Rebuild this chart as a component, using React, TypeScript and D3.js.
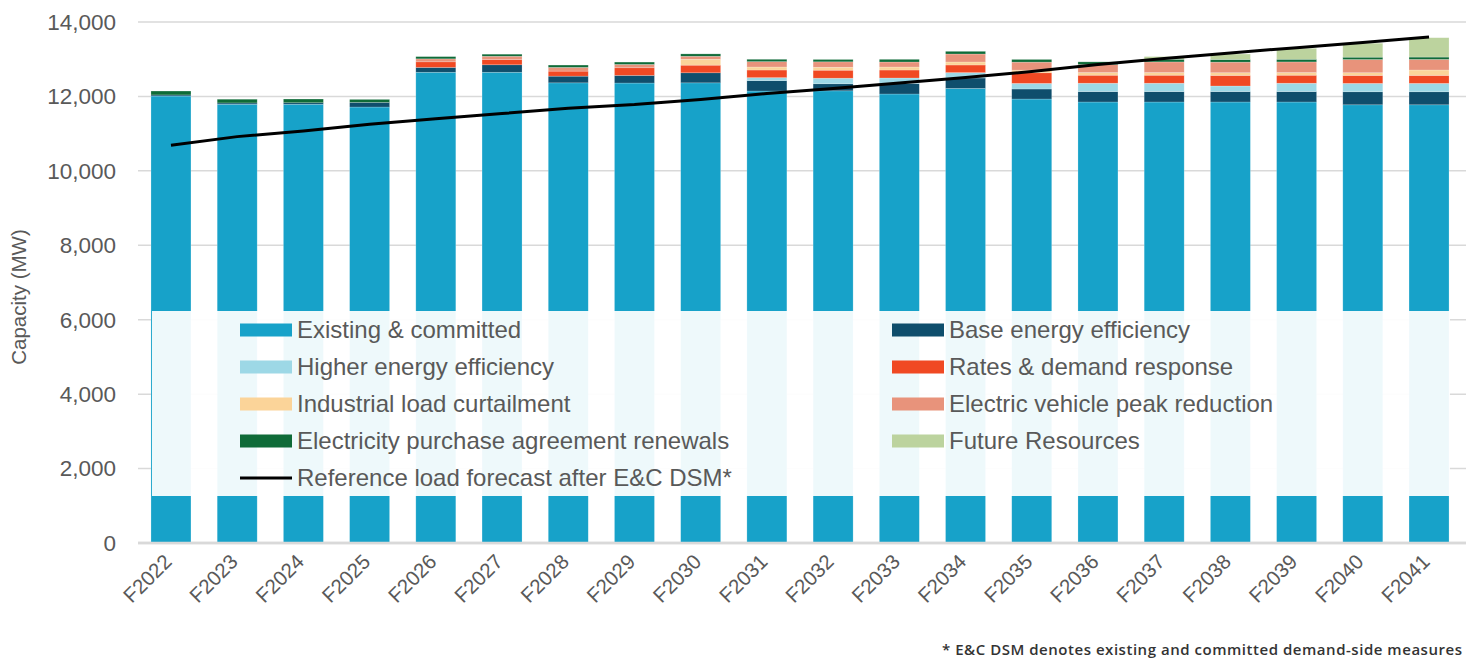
import React from "react";
import * as d3 from "d3";

const categories = ["F2022","F2023","F2024","F2025","F2026","F2027","F2028","F2029","F2030","F2031","F2032","F2033","F2034","F2035","F2036","F2037","F2038","F2039","F2040","F2041"];

const existing = [12010,11790,11790,11715,12650,12650,12365,12360,12365,12145,12150,12065,12215,11930,11850,11850,11850,11850,11775,11775];
const baseEE = [30,35,40,125,130,200,180,205,270,280,190,280,280,270,280,280,280,280,350,350];
const higherEE = [0,0,0,0,0,0,0,0,0,80,150,150,145,150,225,225,150,225,225,225];
const rates = [0,0,0,0,150,140,135,205,205,205,215,215,205,285,215,215,285,215,215,215];
const industrial = [0,0,0,0,0,0,0,0,160,80,80,80,80,72,72,72,72,72,72,145];
const evPeak = [0,0,0,0,80,90,100,90,80,145,145,135,215,215,215,285,285,285,355,285];
const epaRenewals = [105,100,100,80,60,55,63,63,63,63,63,72,72,72,72,72,72,72,63,63];
const futureRes = [0,0,0,0,0,0,0,0,0,0,0,0,0,0,0,72,145,295,375,520];

const loadForecast = [10690,10920,11070,11250,11400,11540,11680,11780,11920,12080,12210,12360,12510,12670,12860,13020,13170,13310,13450,13600];

const yTicks = [0,2000,4000,6000,8000,10000,12000,14000];

const seriesNames = ["Existing & committed","Base energy efficiency","Higher energy efficiency","Rates & demand response","Industrial load curtailment","Electric vehicle peak reduction","Electricity purchase agreement renewals","Future Resources"];
const seriesColors = ["#17a2c9","#0f4e6c","#9dd8e6","#f04923","#fbd499","#e8937b","#0f6b38","#bcd39e"];
const seriesValues = [existing, baseEE, higherEE, rates, industrial, evPeak, epaRenewals, futureRes];

const lineLabel = "Reference load forecast after E&C DSM*";
const footnote = "* E&C DSM denotes existing and committed demand-side measures";

const W = 1476, H = 663;
const FONT = "'Liberation Sans', Arial, sans-serif";
const TEXT = "#595959";

export default function App() {
  const x = d3.scaleBand<string>().domain(categories).range([138, 1462]).paddingInner(0.396).paddingOuter(0.196);
  const y = d3.scaleLinear().domain([0, 14000]).range([543, 22]);

  const rows = categories.map((c, i) => {
    const r: any = { cat: c };
    seriesNames.forEach((n, j) => (r[n] = seriesValues[j][i]));
    return r;
  });
  const stacked = d3.stack<any>().keys(seriesNames)(rows);

  const line = d3.line<number>()
    .x((_, i) => (x(categories[i]) as number) + x.bandwidth() / 2)
    .y((d) => y(d));

  const legendItems = [
    { name: seriesNames[0], color: seriesColors[0], col: 0, row: 0 },
    { name: seriesNames[2], color: seriesColors[2], col: 0, row: 1 },
    { name: seriesNames[4], color: seriesColors[4], col: 0, row: 2 },
    { name: seriesNames[6], color: seriesColors[6], col: 0, row: 3 },
    { name: seriesNames[1], color: seriesColors[1], col: 1, row: 0 },
    { name: seriesNames[3], color: seriesColors[3], col: 1, row: 1 },
    { name: seriesNames[5], color: seriesColors[5], col: 1, row: 2 },
    { name: seriesNames[7], color: seriesColors[7], col: 1, row: 3 },
  ];
  const colX = [240, 892];
  const rowY = (r: number) => 330 + r * 37;

  return (
    <svg width={W} height={H} style={{ position: "absolute", left: 0, top: 0, background: "#fff" }} fontFamily={FONT}>
      {yTicks.map((t) => (
        <line key={t} x1={138} x2={1466} y1={y(t)} y2={y(t)} stroke="#d9d9d9" strokeWidth={t === 0 ? 2.5 : 1.5} />
      ))}
      {yTicks.map((t) => (
        <text key={"l" + t} x={116} y={y(t)} dy="0.35em" textAnchor="end" fontSize={22.5} fill={TEXT}>
          {d3.format(",")(t)}
        </text>
      ))}
      <text transform={`translate(26,297) rotate(-90)`} textAnchor="middle" fontSize={20.5} fill={TEXT}>Capacity (MW)</text>

      {stacked.map((s, j) => (
        <g key={s.key} fill={seriesColors[j]}>
          {s.map((d, i) =>
            d[1] - d[0] > 0 ? (
              <rect key={i} x={x(categories[i])} width={x.bandwidth()} y={y(d[1])} height={y(d[0]) - y(d[1])}
                stroke="#ffffff" strokeOpacity={0.35} strokeWidth={0.6} />
            ) : null
          )}
        </g>
      ))}
      <line x1={138} x2={1466} y1={y(0)} y2={y(0)} stroke="#d9d9d9" strokeWidth={2.5} />

      <path d={line(loadForecast) as string} fill="none" stroke="#000" strokeWidth={3} />

      {categories.map((c) => {
        const cx = (x(c) as number) + x.bandwidth() / 2;
        return (
          <text key={c} transform={`translate(${cx + 2},${563}) rotate(-45)`} textAnchor="end" fontSize={20.5} fill={TEXT}>
            {c}
          </text>
        );
      })}

      <rect x={152} y={311} width={1298} height={185} fill="#ffffff" fillOpacity={0.93} />
      {legendItems.map((it) => (
        <g key={it.name}>
          <rect x={colX[it.col]} y={rowY(it.row) - 6.5} width={52} height={13} fill={it.color} />
          <text x={colX[it.col] + 57} y={rowY(it.row)} dy="0.35em" fontSize={24} fill={TEXT}>{it.name}</text>
        </g>
      ))}
      <line x1={240} x2={292} y1={rowY(4)} y2={rowY(4)} stroke="#000" strokeWidth={3} />
      <text x={297} y={rowY(4)} dy="0.35em" fontSize={24} fill={TEXT}>{lineLabel}</text>

      <text x={1462} y={655} textAnchor="end" fontSize={15} fontWeight={600} fill="#333" fontFamily="'Open Sans', sans-serif"
        textLength={520} lengthAdjust="spacing">{footnote}</text>
    </svg>
  );
}
